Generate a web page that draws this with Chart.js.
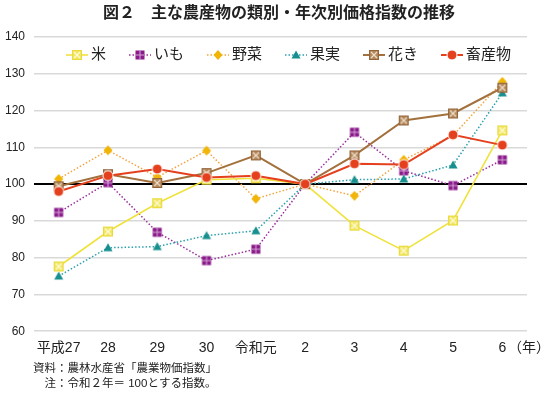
<!DOCTYPE html>
<html lang="ja">
<head>
<meta charset="utf-8">
<script src="https://cdn.jsdelivr.net/npm/chart.js@4.4.1/dist/chart.umd.min.js"></script>
<style>
    html, body { margin: 0; padding: 0; background: #fff; }
    #wrap { width: 550px; height: 394px; }
</style>
</head>
<body>
<div id="wrap"><canvas id="priceChart" width="550" height="394"></canvas></div>
<script>
// ===========================
// Data (令和2年 = 100)
// ===========================

const years = ['平成27', '28', '29', '30', '令和元', '2', '3', '4', '5', '6'];
const seriesNames = ['米', 'いも', '野菜', '果実', '花き', '畜産物'];
const rice = [77.6, 87.1, 94.8, 101.2, 101.6, 100, 88.7, 81.9, 90.1, 114.6];
const potato = [92.3, 100.4, 86.9, 79.2, 82.3, 100, 114.1, 103.6, 99.6, 106.6];
const vegetables = [101.4, 109.2, 101.9, 109.1, 96.0, 100, 96.8, 106.6, 113.2, 127.8];
const fruit = [75.0, 82.7, 83.0, 86.0, 87.3, 100, 101.2, 101.4, 105.2, 124.8];
const flowers = [99.4, 102.7, 100.3, 103.0, 107.8, 100, 107.8, 117.3, 119.2, 126.2];
const livestock = [98.0, 102.3, 104.1, 101.8, 102.3, 100, 105.5, 105.3, 113.4, 110.6];
const yTicks = [60, 70, 80, 90, 100, 110, 120, 130, 140];
const baseValue = 100;

const titleText = '図２　主な農産物の類別・年次別価格指数の推移';
const unitText = '（年）';
const notes = ['資料：農林水産省「農業物価指数」', '　注：令和２年＝ 100とする指数。'];

const FONT = "'Liberation Sans', Arial, 'Noto Sans CJK JP', sans-serif";

// ===========================
// Marker images
// ===========================

const styles = [
    { line: '#F0E23C', width: 1.6, dash: [], shape: 'xbox', fill: '#F1E765', edge: '#E9DA3A', mark: '#FFFBD8', order: 2 },
    { line: '#9A2E9E', width: 1.5, dash: [1.5, 2], shape: 'grid', fill: '#8A1B8A', mark: '#D7A8D7', order: 5 },
    { line: '#F3A43E', width: 1.5, dash: [1.5, 2], shape: 'diamond', fill: '#F1B507', order: 3 },
    { line: '#2BA0AE', width: 1.5, dash: [1.5, 2], shape: 'triangle', fill: '#168F8E', order: 4 },
    { line: '#A3713D', width: 2, dash: [], shape: 'xbox', fill: '#B4885B', edge: '#93643A', mark: '#EEDFCD', order: 1 },
    { line: '#E5401D', width: 2, dash: [], shape: 'circle', fill: '#E5401D', edge: '#FFFFFF', order: 0 }
];

function drawMarker(ctx, s, cx, cy) {
    ctx.save();
    if (s.shape === 'xbox') {
        ctx.fillStyle = s.fill;
        ctx.fillRect(cx - 4.5, cy - 4.5, 9, 9);
        ctx.strokeStyle = s.edge;
        ctx.lineWidth = 1;
        ctx.strokeRect(cx - 4.5, cy - 4.5, 9, 9);
        ctx.strokeStyle = s.mark;
        ctx.lineWidth = 1.2;
        ctx.beginPath();
        ctx.moveTo(cx - 3, cy - 3); ctx.lineTo(cx + 3, cy + 3);
        ctx.moveTo(cx + 3, cy - 3); ctx.lineTo(cx - 3, cy + 3);
        ctx.stroke();
    } else if (s.shape === 'grid') {
        ctx.fillStyle = s.fill;
        ctx.fillRect(cx - 4.5, cy - 4.5, 9, 9);
        ctx.strokeStyle = s.mark;
        ctx.lineWidth = 1;
        ctx.beginPath();
        ctx.moveTo(cx, cy - 4.5); ctx.lineTo(cx, cy + 4.5);
        ctx.moveTo(cx - 4.5, cy); ctx.lineTo(cx + 4.5, cy);
        ctx.stroke();
    } else if (s.shape === 'diamond') {
        ctx.fillStyle = s.fill;
        ctx.beginPath();
        ctx.moveTo(cx, cy - 5); ctx.lineTo(cx + 4.5, cy);
        ctx.lineTo(cx, cy + 5); ctx.lineTo(cx - 4.5, cy);
        ctx.closePath();
        ctx.fill();
    } else if (s.shape === 'triangle') {
        ctx.fillStyle = s.fill;
        ctx.beginPath();
        ctx.moveTo(cx, cy - 4.5); ctx.lineTo(cx + 4.5, cy + 3.5);
        ctx.lineTo(cx - 4.5, cy + 3.5);
        ctx.closePath();
        ctx.fill();
    } else {
        ctx.fillStyle = s.fill;
        ctx.strokeStyle = s.edge;
        ctx.lineWidth = 1;
        ctx.beginPath();
        ctx.arc(cx, cy, 5, 0, Math.PI * 2);
        ctx.fill();
        ctx.stroke();
    }
    ctx.restore();
}

function makeImage(s, withLine) {
    const c = document.createElement('canvas');
    c.width = withLine ? 22 : 14;
    c.height = 14;
    const ctx = c.getContext('2d');
    if (withLine) {
        ctx.strokeStyle = s.line;
        ctx.lineWidth = s.width;
        ctx.setLineDash(s.dash);
        ctx.beginPath();
        ctx.moveTo(0, 7); ctx.lineTo(22, 7);
        ctx.stroke();
        ctx.setLineDash([]);
    }
    drawMarker(ctx, s, c.width / 2, 7);
    return c;
}

const pointImages = styles.map(s => makeImage(s, false));
const legendImages = styles.map(s => makeImage(s, true));

// ===========================
// Plugins: title, legend inside plot, unit label, notes
// ===========================

const innerLegend = {
    id: 'innerLegend',
    afterDatasetsDraw(chart) {
        const { ctx, chartArea } = chart;
        ctx.save();
        ctx.font = `15px ${FONT}`;
        ctx.textBaseline = 'middle';
        ctx.fillStyle = '#222';
        const gap = 3, spacing = 23;
        const items = chart.data.datasets.map((ds, i) => ({
            img: legendImages[i], text: ds.label, w: ctx.measureText(ds.label).width
        }));
        const total = items.reduce((sum, it) => sum + it.img.width + gap + it.w, 0) + spacing * (items.length - 1);
        let x = (chartArea.left + chartArea.right) / 2 + 8 - total / 2;
        const y = chartArea.top + 18;
        items.forEach(it => {
            ctx.drawImage(it.img, x, y - it.img.height / 2);
            x += it.img.width + gap;
            ctx.fillText(it.text, x, y);
            x += it.w + spacing;
        });
        ctx.restore();
    }
};

const extraText = {
    id: 'extraText',
    afterDraw(chart) {
        const { ctx, chartArea } = chart;
        ctx.save();
        ctx.fillStyle = '#222';
        ctx.textBaseline = 'middle';
        ctx.textAlign = 'center';
        ctx.font = `bold 16px ${FONT}`;
        ctx.fillText(titleText, 279, 14);
        ctx.textAlign = 'left';
        ctx.font = `14px ${FONT}`;
        ctx.fillText(unitText, chartArea.right - 19, chartArea.bottom + 17);
        ctx.font = `11.5px ${FONT}`;
        ctx.fillText(notes[0], 33, chartArea.bottom + 38);
        ctx.fillText(notes[1], 33, chartArea.bottom + 53);
        ctx.restore();
    }
};

// ===========================
// Chart
// ===========================

const seriesValues = [rice, potato, vegetables, fruit, flowers, livestock];

new Chart(document.getElementById('priceChart'), {
    type: 'line',
    data: {
        labels: years,
        datasets: seriesValues.map((values, i) => ({
            label: seriesNames[i],
            data: values,
            borderColor: styles[i].line,
            backgroundColor: styles[i].fill,
            borderWidth: styles[i].width,
            borderDash: styles[i].dash,
            pointStyle: pointImages[i],
            pointRadius: 5,
            tension: 0,
            fill: false,
            order: styles[i].order
        }))
    },
    options: {
        responsive: false,
        animation: false,
        layout: {
            padding: { left: 3, right: 23, top: 37, bottom: 28 }
        },
        plugins: {
            legend: { display: false },
            tooltip: { enabled: false },
            title: { display: false }
        },
        scales: {
            x: {
                offset: true,
                grid: { display: false, drawTicks: false },
                border: { display: false },
                ticks: {
                    color: '#222',
                    font: { family: FONT, size: 14 },
                    padding: 9,
                    maxRotation: 0,
                    autoSkip: false
                }
            },
            y: {
                min: yTicks[0],
                max: yTicks[yTicks.length - 1],
                afterBuildTicks: (axis) => { axis.ticks = yTicks.map(v => ({ value: v })); },
                afterFit: (axis) => { axis.width = 31; },
                border: { display: false },
                grid: {
                    drawTicks: false,
                    tickLength: 0,
                    color: (c) => (c.tick && c.tick.value === baseValue ? '#000000' : '#D9D9D9'),
                    lineWidth: (c) => (c.tick && c.tick.value === baseValue ? 2 : 1.5)
                },
                ticks: {
                    color: '#222',
                    font: { family: FONT, size: 12 },
                    padding: 9
                }
            }
        }
    },
    plugins: [innerLegend, extraText]
});
</script>
</body>
</html>
